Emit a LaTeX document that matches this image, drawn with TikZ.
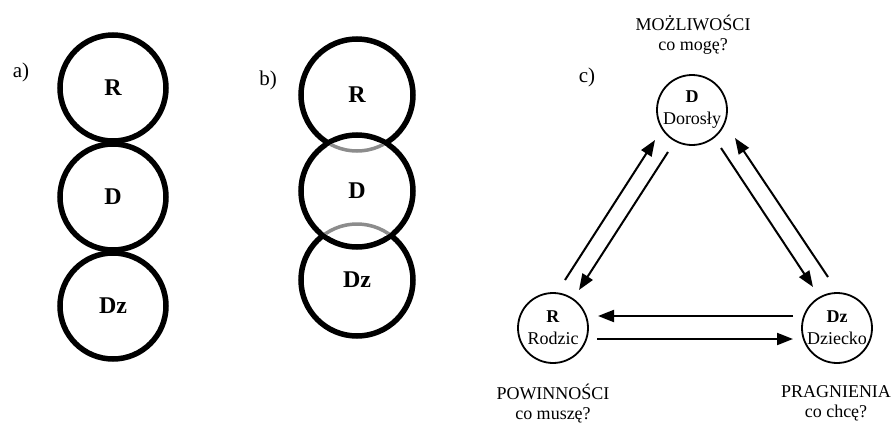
\documentclass[tikz,border=0pt]{standalone}
\usepackage{fontspec}
\setmainfont{Liberation Serif}
\usetikzlibrary{arrows.meta,calc}

\tikzset{%
  % Specifications for style of nodes:
         bigring/.style = { circle, draw = black, line width=5.5pt, minimum size=106pt, inner sep=0pt, font=\fontsize{24}{28}\selectfont\bfseries },
         widering/.style = { bigring, minimum size=112pt },
         ring/.style =    { circle, draw = black, line width=1.8pt, minimum size=70pt, inner sep=0pt, align=center, font=\fontsize{18}{22}\selectfont },
         tag/.style =     { align=center, font=\fontsize{18}{20}\selectfont },
         panel/.style =   { font=\fontsize{21}{24}\selectfont },
         flow/.style =    { -{Triangle[length=16pt,width=12pt]}, line width=2pt },
}

\begin{document}
\begin{tikzpicture}[x=1pt, y=-1pt]
    \useasboundingbox (0,0) rectangle (895,426);

    % Draw panel a
    \node (lblA)  [panel]          at (21,72)   {a)};
    \node (aR)    [bigring]        at (113,88)  {R};
    \node (aD)    [bigring]        at (113,197) {D};
    \node (aDz)   [bigring]        at (113,306) {Dz};

    % Draw panel b
    \node (lblB)  [panel]          at (268,80)  {b)};
    \node (bR)    [widering]       at (357,95)  {R};
    \node (bDz)   [widering]       at (357,280) {Dz};
    \node (bD)    [widering]       at (357,191) {D};
    \begin{scope}
        \clip (bD.center) circle (53.3);
        \draw[white, line width=7pt]     (bR.center) circle (56) (bDz.center) circle (56);
        \draw[black!45, line width=3.5pt] (bR.center) circle (56) (bDz.center) circle (56);
    \end{scope}

    % Draw panel c
    \node (lblC)  [panel]          at (587,77)  {c)};
    \node (cD)    [ring]           at (692,110) {\textbf{D}\\Dorosły};
    \node (cR)    [ring]           at (553,328) {\textbf{R}\\Rodzic};
    \node (cDz)   [ring]           at (837,328) {\textbf{Dz}\\Dziecko};
    \node (tD)    [tag]            at (693,35)  {MOŻLIWOŚCI\\co mogę?};
    \node (tR)    [tag]            at (553,404) {POWINNOŚCI\\co muszę?};
    \node (tDz)   [tag]            at (836,403) {PRAGNIENIA\\co chcę?};

    % Draw arrows
    \draw[flow]   ($(cR)+(12,-48)$)   -- ($(cD)+(-37,30)$);
    \draw[flow]   ($(cD)+(-24,42)$)   -- ($(cR)+(26,-38)$);
    \draw[flow]   ($(cD)+(29,38)$)    -- ($(cDz)+(-24,-41)$);
    \draw[flow]   ($(cDz)+(-9,-51)$)  -- ($(cD)+(43,28)$);
    \draw[flow]   ($(cDz)+(-44,-12)$) -- ($(cR)+(45,-12)$);
    \draw[flow]   ($(cR)+(44,11)$)    -- ($(cDz)+(-44,11)$);
\end{tikzpicture}
\end{document}
